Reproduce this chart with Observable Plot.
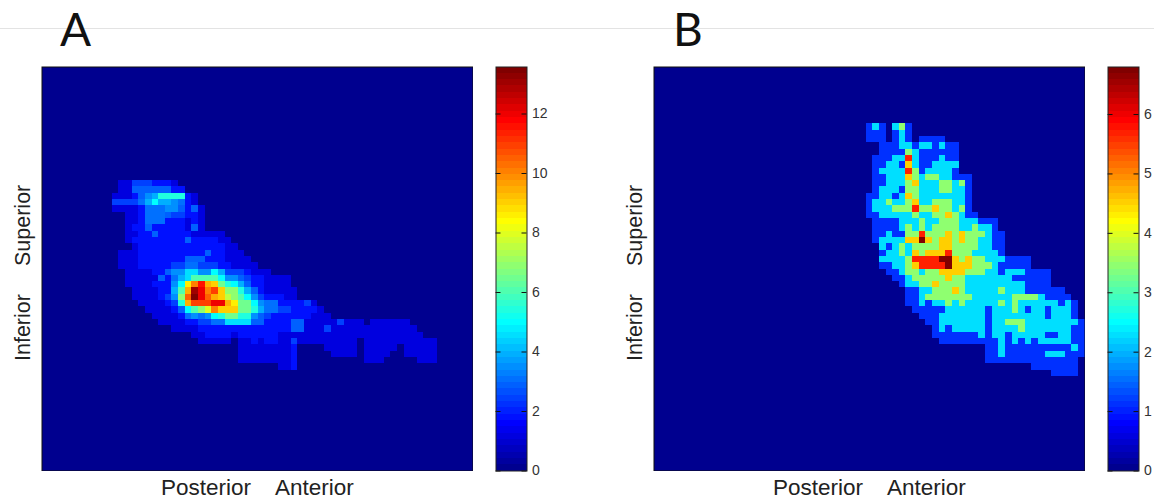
<!DOCTYPE html>
<html>
<head>
<meta charset="utf-8">
<script src="https://cdn.jsdelivr.net/npm/d3@7"></script>
<script src="https://cdn.jsdelivr.net/npm/@observablehq/plot@0.6"></script>
<style>
html,body{margin:0;padding:0;background:#fff}
#page{position:relative;width:1154px;height:502px;overflow:hidden;font-family:"Liberation Sans",Arial,sans-serif;color:#222}
#page>svg,#page>figure{position:absolute;margin:0}
.t{position:absolute;white-space:nowrap;line-height:1}
.panel{font-family:Lato,sans-serif;font-size:46px;color:#111;top:6px}
.xl{font-size:22.5px;top:477px}
.yl{font-size:21.5px;transform-origin:0 0;transform:rotate(-90deg)}
#rule{position:absolute;left:0;top:28px;width:1154px;height:1px;background:#e3e3e3}
.heat{filter:blur(.35px)}
</style>
</head>
<body>
<div id="page"><div id="rule"></div></div>
<script>
// Panel A: [row, first column, cell codes]; a code is a base-36 index into the value lookup below
const rowsA = [
[18,12,"224443332"],
[19,12,"2255555533"],
[20,11,"2223578bbbb32"],
[21,11,"444468a887632"],
[22,11,"22223666775352"],
[23,13,"223666544332"],
[24,13,"223666333232"],
[25,13,"233533333252"],
[26,13,"223353333322222"],
[27,13,"2333333335333322"],
[28,14,"2333333333333322"],
[29,12,"2223333333333533222"],
[30,12,"22233333335553332222"],
[31,12,"222333334466444332222"],
[32,13,"2222335779977a84443222"],
[33,13,"2222253689cccca7754332222"],
[34,13,"22223337ahknjidba85332222"],
[35,14,"2222338cjqokmieeb85322222"],
[36,14,"2222347elroljifeca7433322"],
[37,15,"222234bjmmmoojhdda766333342"],
[38,16,"222235acegkiiiddb8664433332"],
[39,17,"222236767abddbb754333333222"],
[40,18,"22223344669999553333552222242220222222"],
[41,20,"2222333333333333335522242222222222222"],
[42,23,"2233332333333222222222222222222222 2".replace(" ","")],
[43,24,"222220223233224222222222022222222222"],
[44,30,"22222222300002222202222202 2222".replace(" ","")],
[45,30,"222222223000002222022220022222"],
[46,30,"222222223000000000022200000222"],
[47,36,"223"]
];
// Panel B: same layout; each character is a level worth levelB units
const rowsB = [
[9,32,"1210231"],
[10,32,"1110121"],
[11,32,"111012101111"],
[12,34,"111221221211"],
[13,34,"111132111111"],
[14,33,"1112252111211"],
[15,33,"1122142112222"],
[16,33,"1222253122221"],
[17,33,"112224323322111"],
[18,33,"112223422233231"],
[19,33,"122213322233221"],
[20,32,"1122124322222221"],
[21,32,"1223223422333221"],
[22,32,"1222333533433231"],
[23,32,"11222223223343211"],
[24,33,"1111222322333222111"],
[25,33,"1111232323333223221"],
[26,33,"11211335333434333211"],
[27,33,"12222446434434332211"],
[28,34,"2123233334433332211"],
[29,34,"1223243444533322221"],
[30,34,"22223555566434332221111"],
[31,34,"11223455556444333211111"],
[32,35,"1123323344443332212221111"],
[33,36,"112333334332222222111111"],
[34,37,"12233433332222222221111"],
[35,38,"112233343222223222111111"],
[36,38,"1123333333222222333321111"],
[37,38,"11212232322222323222222121"],
[38,39,"1111122222212223212212221"],
[39,40,"111222222212222222212221"],
[40,41,"112222222122333222222221"],
[41,42,"12122222122223222222211"],
[42,42,"11111112122122222112211"],
[43,43,"1111111112121212222211"],
[44,50,"112111111111121"],
[45,50,"112111111222111"],
[46,50,"11111111111111"],
[47,57,"1111111"],
[48,60,"1111"]
];
const levelA = 0.5;
const lowCodesA = {2: 1.25, 3: 1.9, 4: 2.4, 5: 2.8};
const levelB = 1.135;
const maxA = 13.58;
const maxB = 6.8;
const ticksA = [0,2,4,6,8,10,12];
const ticksB = [0,1,2,3,4,5,6];
const nCols = 65, nRows = 64;

const clamp = v => Math.max(0, Math.min(1, v));
const jet = d3.range(64).map(i => {
  const x = (i + 1) / 64;
  return d3.rgb(255 * clamp(1.5 - Math.abs(4 * x - 3)),
                255 * clamp(1.5 - Math.abs(4 * x - 2)),
                255 * clamp(1.5 - Math.abs(4 * x - 1))).formatHex();
});
const cellsOf = (rows, value) => rows.flatMap(([r, c0, s]) =>
  Array.from(s, (ch, i) => ({r, c: c0 + i, v: value(parseInt(ch, 36))})).filter(d => d.v > 0));

const page = document.getElementById("page");
function place(el, left, top){ el.style.left = left + "px"; el.style.top = top + "px"; page.appendChild(el); }
function label(text, cls, left, top){
  const d = document.createElement("div");
  d.className = "t " + cls; d.textContent = text;
  d.style.left = left + "px";
  if (top != null) d.style.top = top + "px";
  page.appendChild(d);
}

function heat(cells, max, shift){
  const svg = Plot.plot({
    width: 432, height: 405,
    marginTop: .5, marginBottom: .5, marginLeft: .5, marginRight: .5,
    x: {domain: [shift, nCols + shift], axis: null},
    y: {domain: [nRows, 0], axis: null},
    color: {type: "quantize", domain: [0, max], range: jet},
    marks: [
      Plot.frame({fill: jet[0], stroke: "none"}),
      Plot.rect(cells, {x1: "c", x2: d => d.c + 1, y1: "r", y2: d => d.r + 1, fill: "v", shapeRendering: "crispEdges"}),
      Plot.frame({stroke: "#111", strokeWidth: 1})
    ]
  });
  svg.classList.add("heat");
  return svg;
}
function bar(max, ticks){
  const bands = d3.range(64).map(i => ({y1: i * max / 64, y2: (i + 1) * max / 64, v: (i + .5) * max / 64}));
  return Plot.plot({
    width: 62, height: 405,
    marginTop: .5, marginBottom: .5, marginLeft: .5, marginRight: 30.5,
    style: {fontSize: "14px", fontFamily: "'Liberation Sans',Arial,sans-serif", color: "#333", overflow: "visible", background: "transparent"},
    x: {domain: [0, 31], axis: null},
    y: {domain: [0, max], axis: null},
    color: {type: "quantize", domain: [0, max], range: jet},
    marks: [
      Plot.rect(bands, {x1: 0, x2: 31, y1: "y1", y2: "y2", fill: "v", shapeRendering: "crispEdges"}),
      Plot.ruleY(ticks, {x1: 0, x2: 5, stroke: "#111"}),
      Plot.ruleY(ticks, {x1: 26, x2: 31, stroke: "#111"}),
      Plot.frame({stroke: "#222", strokeWidth: 1}),
      Plot.axisY(ticks, {anchor: "right", tickSize: 0, tickPadding: 5, label: null, fontSize: 14, fill: "#333", tickFormat: d => d})
    ]
  });
}

const cellsA = cellsOf(rowsA, code => lowCodesA[code] ?? code * levelA);
const cellsB = cellsOf(rowsB, code => code * levelB);
place(heat(cellsA, maxA, 0.4), 41, 66);
place(bar(maxA, ticksA), 495, 66);
place(heat(cellsB, maxB, 0), 653, 66);
place(bar(maxB, ticksB), 1107, 66);

label("A", "panel", 60);
label("B", "panel", 673);
label("Posterior", "xl", 161);
label("Anterior", "xl", 275);
label("Posterior", "xl", 773);
label("Anterior", "xl", 887);
label("Superior", "yl", 13, 266);
label("Inferior", "yl", 13, 361);
label("Superior", "yl", 625, 266);
label("Inferior", "yl", 625, 361);
</script>
</body>
</html>
